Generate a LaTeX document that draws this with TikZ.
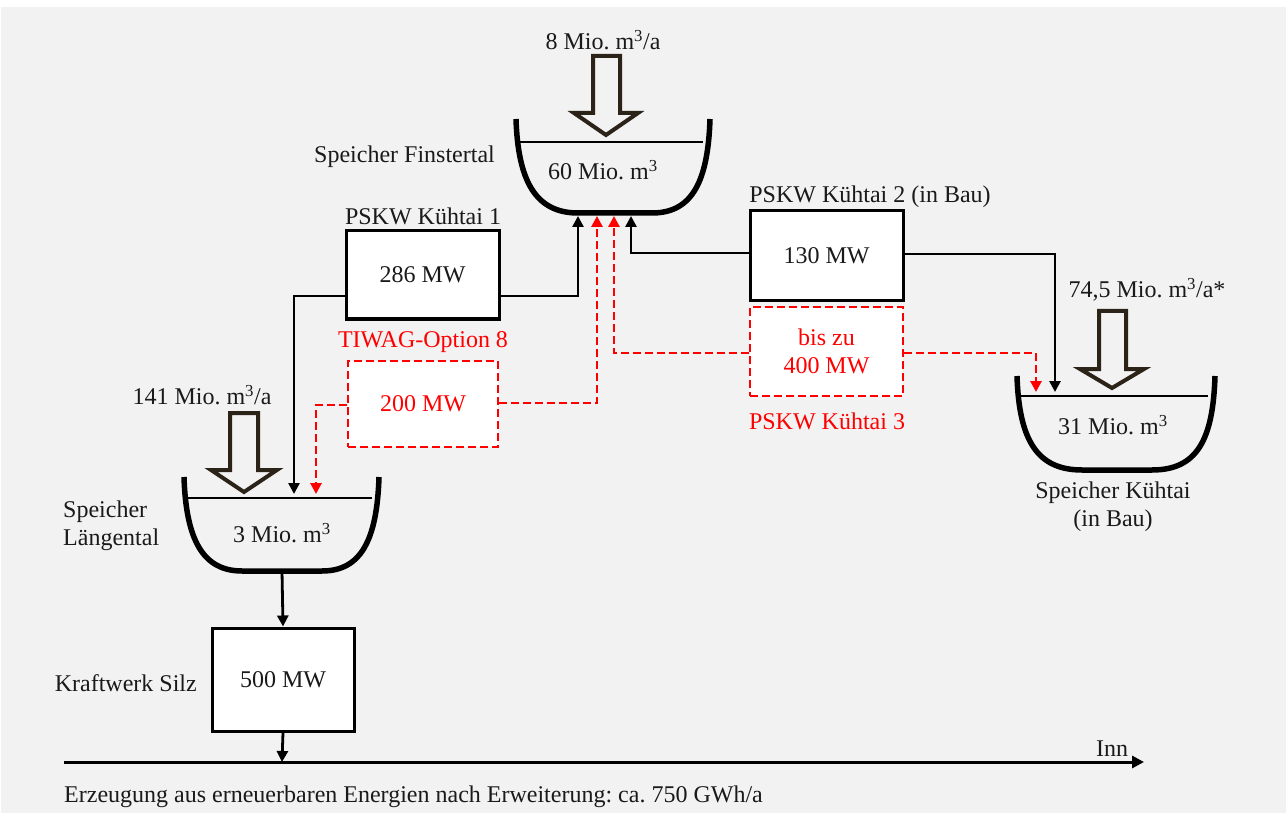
\documentclass[tikz,border=0pt]{standalone}
\usepackage{fontspec}
\setmainfont{Liberation Serif}
\usetikzlibrary{arrows.meta}
\frenchspacing
\definecolor{bgc}{HTML}{F2F2F2}
\definecolor{txtc}{HTML}{1A1A1A}
\definecolor{hollowc}{HTML}{2B2218}
\definecolor{redc}{HTML}{FF0000}
\newcommand{\sqm}{\textsuperscript{\raisebox{-0.15ex}{3}}}
\tikzset{
  txt/.style={font=\fontsize{24}{28}\selectfont, text=txtc, inner sep=0pt},
  rtxt/.style={txt, text=redc},
  plant/.style={draw=black, line width=3pt, fill=white, minimum width=153pt, minimum height=88pt, txt},
  rplant/.style={draw=redc, line width=2.8pt, dash pattern=on 8pt off 4pt, fill=white, minimum width=153pt, minimum height=88pt, rtxt},
  conn/.style={draw=black, line width=2.6pt, -{Triangle[length=11pt,width=11pt]}},
  rconn/.style={draw=redc, line width=2.8pt, dash pattern=on 8pt off 4pt, -{Triangle[length=11pt,width=11pt]}},
  bowl/.style={draw=black, line width=5.5pt, line cap=butt},
  water/.style={draw=black, line width=2.2pt},
  hollow/.style={draw=hollowc, line width=4pt, fill=bgc, line join=miter},
}
\begin{document}
\begin{tikzpicture}[x=1pt,y=-1pt]
\useasboundingbox (0,0) rectangle (1286,813);
\fill[white] (0,0) rectangle (1286,813);
\fill[bgc] (1,7) rectangle (1286,813);

% ---- Speicher Finstertal ----
\draw[bowl] (516,119) .. controls (518,180) and (535,213) .. (578,213) -- (652,213) .. controls (693,213) and (708,180) .. (710,119);
\draw[water] (520,142) -- (703,142);
\draw[hollow] (593,56) -- (620,56) -- (620,113) -- (638,113) -- (606,135) -- (574,113) -- (593,113) -- cycle;
\node[txt] (inF) at (603,40) {8 Mio. m\sqm/a};
\node[txt, anchor=east] (nameF) at (495,157) {Speicher Finstertal};
\node[txt] (volF) at (603,170) {60 Mio. m\sqm};
\coordinate (fb1) at (578,216);
\coordinate (fb2) at (597,216);
\coordinate (fb3) at (614,216);
\coordinate (fb4) at (631,216);

% ---- Speicher Laengental ----
\draw[bowl] (184,477) .. controls (186,540) and (203,571) .. (242,571) -- (322,571) .. controls (361,571) and (377,540) .. (379,477);
\draw[water] (188,498) -- (372,498);
\draw[hollow] (230,413) -- (258,413) -- (258,470) -- (277,470) -- (244,492) -- (211,470) -- (230,470) -- cycle;
\node[txt] (inL) at (202,395) {141 Mio. m\sqm/a};
\node[txt, anchor=west, align=left] (nameL) at (63,526) {Speicher\\Längental};
\node[txt] (volL) at (282,533) {3 Mio. m\sqm};
\coordinate (lb1) at (294,494);
\coordinate (lb2) at (316,494);
\coordinate (lout) at (282,571);

% ---- Speicher Kuehtai ----
\draw[bowl] (1017,376) .. controls (1019,440) and (1037,470) .. (1082,470) -- (1152,470) .. controls (1197,470) and (1213,440) .. (1215,376);
\draw[water] (1020,396) -- (1208,396);
\draw[hollow] (1099,311) -- (1126,311) -- (1126,369) -- (1144,369) -- (1112,388) -- (1080,369) -- (1099,369) -- cycle;
\node[txt] (inK) at (1147,290) {74,5 Mio. m\sqm/a*};
\node[txt] (volK) at (1113,425) {31 Mio. m\sqm};
\node[txt, align=center] (nameK) at (1113,507) {Speicher Kühtai\\(in Bau)};
\coordinate (kb1) at (1055,392);
\coordinate (kb2) at (1036,392);

% ---- plants ----
\node[plant] (k1) at (422.5,275) {286 MW};
\node[txt] (k1l) at (423,216) {PSKW Kühtai 1};
\node[rplant, minimum width=150pt, minimum height=86pt] (opt8) at (423,404) {200 MW};
\node[rtxt] (opt8l) at (423,342) {TIWAG-Option 8};
\node[plant, minimum height=90pt] (k2) at (826.5,256) {130 MW};
\node[txt] (k2l) at (870,197) {PSKW Kühtai 2 (in Bau)};
\node[rplant, minimum height=89pt, align=center] (k3) at (826.5,351.5) {bis zu\\400 MW};
\node[rtxt] (k3l) at (827,421) {PSKW Kühtai 3};
\node[plant, minimum width=142pt, minimum height=103pt] (silz) at (283,679.5) {500 MW};
\node[txt, anchor=east] (silzl) at (197,683) {Kraftwerk Silz};

% ---- river ----
\coordinate (rs) at (64,762);
\coordinate (re) at (1144,762);
\coordinate (rin) at (282,762);
\draw[line width=3pt, -{Triangle[length=12pt,width=12pt]}] (rs) -- (re);
\node[txt] (inn) at (1112,749) {Inn};
\node[txt, anchor=west] (total) at (64,797) {Erzeugung aus erneuerbaren Energien nach Erweiterung: ca. 750 GWh/a};

% ---- connectors ----
\draw[conn] ([yshift=-21pt]k1.east) -| (fb1);
\draw[conn] ([yshift=-21pt]k1.west) -| (lb1);
\draw[rconn] ([yshift=1pt]opt8.east) -| (fb2);
\draw[rconn] ([yshift=-1pt]opt8.west) -| (lb2);
\draw[rconn] ([yshift=-1.5pt]k3.west) -| (fb3);
\draw[rconn] ([yshift=-1.5pt]k3.east) -| (kb2);
\draw[conn] ([yshift=3pt]k2.west) -| (fb4);
\draw[conn] ([yshift=2pt]k2.east) -| (kb1);
\draw[conn, line width=2.8pt] (lout) -- (silz.north);
\draw[conn, line width=2.8pt] (silz.south) -- (rin);
\end{tikzpicture}
\end{document}
